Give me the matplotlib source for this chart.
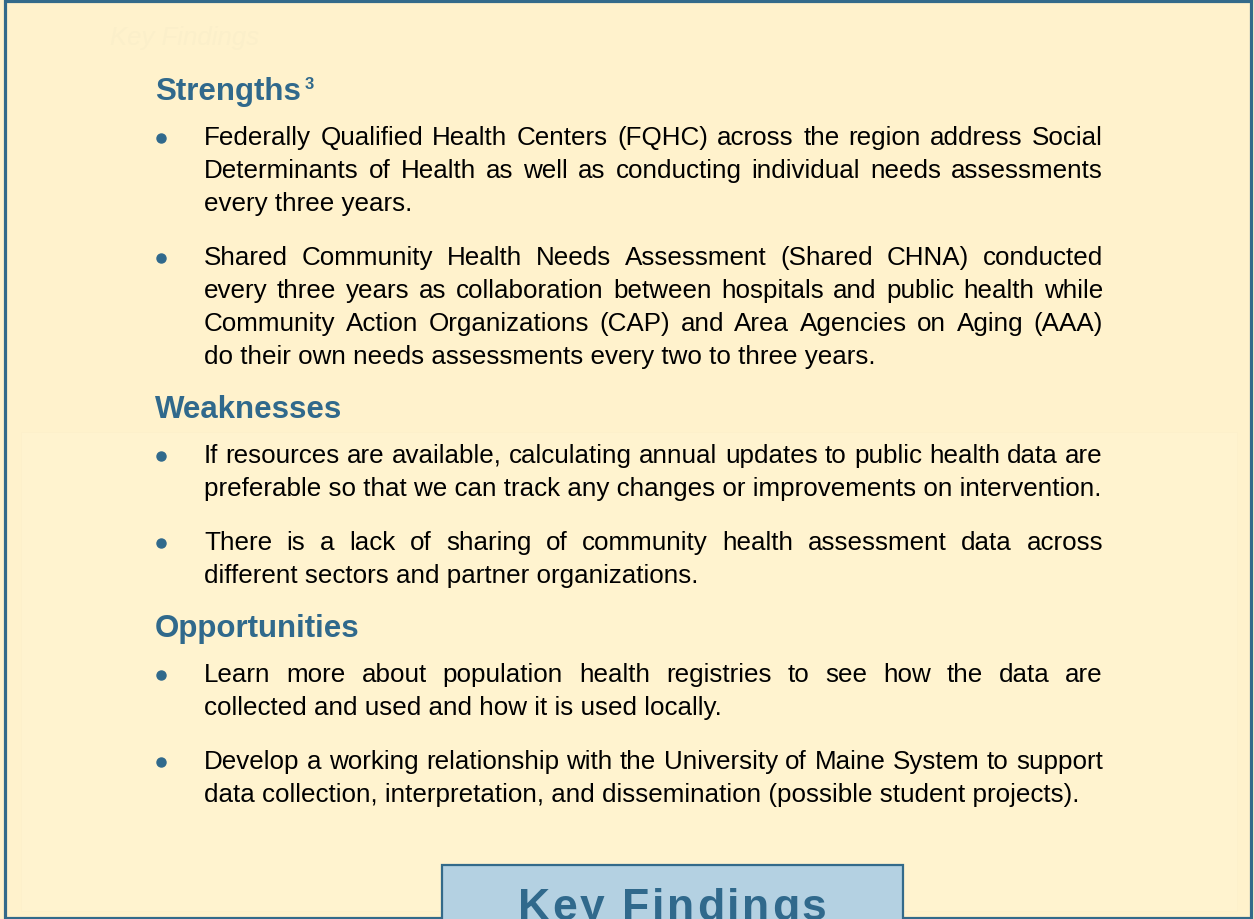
import matplotlib
matplotlib.use("Agg")
import matplotlib.pyplot as plt
from matplotlib.patches import Rectangle

plt.rcParams['font.family'] = ['Liberation Sans', 'DejaVu Sans']

# Text content
headings = ["Strengths", "Weaknesses", "Opportunities"]
heading_sup = ["3", "", ""]

strengths = [
    ["Federally Qualified Health Centers (FQHC) across the region address Social",
     "Determinants of Health as well as conducting individual needs assessments",
     "every three years."],
    ["Shared Community Health Needs Assessment (Shared CHNA) conducted",
     "every three years as collaboration between hospitals and public health while",
     "Community Action Organizations (CAP) and Area Agencies on Aging (AAA)",
     "do their own needs assessments every two to three years."],
]
weaknesses = [
    ["If resources are available, calculating annual updates to public health data are",
     "preferable so that we can track any changes or improvements on intervention."],
    ["There is a lack of sharing of community health assessment data across",
     "different sectors and partner organizations."],
]
opportunities = [
    ["Learn more about population health registries to see how the data are",
     "collected and used and how it is used locally."],
    ["Develop a working relationship with the University of Maine System to support",
     "data collection, interpretation, and dissemination (possible student projects)."],
]
sections = [strengths, weaknesses, opportunities]
footer = "Key Findings"
ghost = "Key Findings"

# Colours
bg = '#fff2cc'
blue = '#30698c'
box_fill = '#b4d1e2'

W, H = 1254, 920
fig = plt.figure(figsize=(W / 100, H / 100), dpi=100)
fig.patch.set_facecolor(bg)
ax = fig.add_axes([0, 0, 1, 1])
ax.set_xlim(0, W)
ax.set_ylim(H, 0)
ax.axis('off')
renderer = fig.canvas.get_renderer()


def width(s, **kw):
    t = ax.text(0, 0, s, **kw)
    w = t.get_window_extent(renderer).width
    t.remove()
    return w


# faint inner panel and ghost title
ax.add_patch(Rectangle((21, 433), 1216, 479, fc='#fff3cf', ec='#fdf0cb', lw=0.5, zorder=0))
ax.text(110, 45, ghost, fontsize=18.5, style='italic', color='#fbefca', va='baseline')

# outer border
ax.add_patch(Rectangle((4.5, 2), 1246, 916.5, fill=False, ec='#336a8a', lw=2.3, zorder=5))

left, right = 204, 1103
fs = 18.7
body = dict(fontsize=fs, color='black', va='baseline')
y = 100
for h, sup, items in zip(headings, heading_sup, sections):
    ax.text(155, y, h, fontsize=22.5, fontweight='bold', color=blue, va='baseline')
    if sup:
        hw = width(h, fontsize=22.5, fontweight='bold')
        ax.text(156 + hw + 3, y - 11, sup, fontsize=12, fontweight='bold', color=blue, va='baseline')
    y += 45
    for k, lines in enumerate(items):
        ax.plot([161], [y - 6], 'o', ms=6.5, color=blue, mec=blue)
        for i, line in enumerate(lines):
            if i < len(lines) - 1:
                words = line.split()
                ws = [width(wd, fontsize=fs) for wd in words]
                gap = (right - left - sum(ws)) / (len(words) - 1)
                x = left
                for wd, ww in zip(words, ws):
                    ax.text(x, y, wd, **body)
                    x += ww + gap
            else:
                ax.text(left, y, line, **body)
            if i < len(lines) - 1:
                y += 33
        y += 54

# Key Findings tab at the bottom
ax.add_patch(Rectangle((442, 866), 461, 70, fc=box_fill, ec='#336a8a', lw=1.6, zorder=6))
kfs = 32
kf = dict(fontsize=kfs, fontweight='bold', color=blue, va='baseline', zorder=7)
spacing = 2.7
chars = list(footer)
cw = [width(c, fontsize=kfs, fontweight='bold') if c != ' ' else 12 for c in chars]
total = sum(cw) + spacing * (len(chars) - 1)
x = 672 - total / 2
for c, w in zip(chars, cw):
    if c != ' ':
        ax.text(x, 920, c, **kf)
    x += w + spacing

fig.savefig('out.png', dpi=100, facecolor=fig.get_facecolor())
